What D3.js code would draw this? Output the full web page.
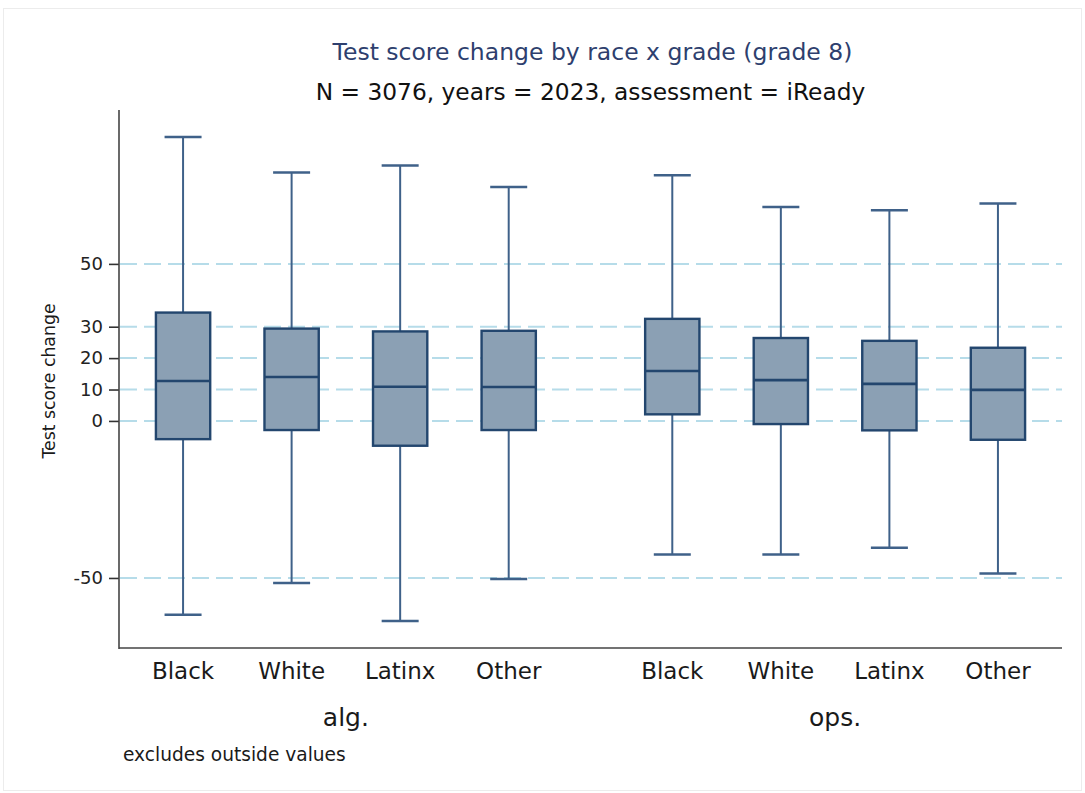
<!DOCTYPE html>
<html>
<head>
<meta charset="utf-8">
<script src="https://cdn.jsdelivr.net/npm/d3@7"></script>
<style>
  html, body { margin: 0; padding: 0; background: #fff; }
  svg { display: block; font-family: "DejaVu Sans", "Liberation Sans", Arial, sans-serif; }
</style>
</head>
<body>
<svg id="chart" width="1085" height="793"></svg>
<script>
// Box plot of test score change, grade 8, split by subject and race
const subjects = ["alg.", "ops."];
const races = ["Black", "White", "Latinx", "Other"];

// Five-number summaries per subject, in race order
const whiskerLow = {
  "alg.": [-61.7, -51.6, -63.7, -50.3],
  "ops.": [-42.5, -42.5, -40.4, -48.6]
};
const quartile1 = {
  "alg.": [-5.8, -2.9, -7.9, -2.9],
  "ops.": [2.1, -1.0, -3.0, -6.0]
};
const medians = {
  "alg.": [12.7, 14.0, 10.9, 10.8],
  "ops.": [15.9, 13.0, 11.8, 9.9]
};
const quartile3 = {
  "alg.": [34.5, 29.4, 28.5, 28.7],
  "ops.": [32.5, 26.4, 25.5, 23.3]
};
const whiskerHigh = {
  "alg.": [90.4, 79.1, 81.3, 74.5],
  "ops.": [78.2, 68.1, 67.1, 69.2]
};
const yTicks = [-50, 0, 10, 20, 30, 50];

const titleText = "Test score change by race x grade (grade 8)";
const subtitleText = "N = 3076, years = 2023, assessment = iReady";
const yTitle = "Test score change";
const noteText = "excludes outside values";

const svg = d3.select("#chart");

// page frame
svg.append("rect")
  .attr("x", 3.5).attr("y", 8.5).attr("width", 1078).attr("height", 782)
  .attr("fill", "#fff").attr("stroke", "#ececec").attr("stroke-width", 1);

const plot = { left: 119, right: 1062, top: 110, bottom: 648 };

const y = d3.scaleLinear().domain([-72.3, 99]).range([plot.bottom, plot.top]);

const xOuter = d3.scaleBand().domain(subjects)
  .range([plot.left, plot.right])
  .paddingInner(0.1125).paddingOuter(0.02);

const xInner = d3.scaleBand().domain(races)
  .range([0, xOuter.bandwidth()])
  .paddingInner(0.5).paddingOuter(0.25);

// dashed gridlines
svg.append("g").selectAll("line").data(yTicks).join("line")
  .attr("x1", plot.left + 1).attr("x2", plot.right)
  .attr("y1", d => y(d)).attr("y2", d => y(d))
  .attr("stroke", "#b6dce9").attr("stroke-width", 2)
  .attr("stroke-dasharray", "17,7");

// y axis
const yAxis = d3.axisLeft(y).tickValues(yTicks).tickSize(10).tickPadding(6).tickFormat(d => String(d));
const gy = svg.append("g").attr("transform", `translate(${plot.left},0)`).call(yAxis);
gy.select(".domain").remove();
gy.selectAll(".tick line").attr("stroke", "#333").attr("stroke-width", 1.6);
gy.selectAll(".tick text").attr("fill", "#222").style("font-size", "18px")
  .style("font-family", "'DejaVu Sans', sans-serif");

// axis lines
svg.append("line").attr("x1", plot.left).attr("x2", plot.left)
  .attr("y1", plot.top).attr("y2", plot.bottom + 1)
  .attr("stroke", "#444").attr("stroke-width", 1.6);
svg.append("line").attr("x1", plot.left).attr("x2", plot.right)
  .attr("y1", plot.bottom).attr("y2", plot.bottom)
  .attr("stroke", "#444").attr("stroke-width", 1.6);

// flatten summaries into box records
const boxes = [];
subjects.forEach(s => races.forEach((r, i) => boxes.push({
  subject: s, race: r,
  lo: whiskerLow[s][i], q1: quartile1[s][i], med: medians[s][i],
  q3: quartile3[s][i], hi: whiskerHigh[s][i]
})));

const cx = d => xOuter(d.subject) + xInner(d.race) + xInner.bandwidth() / 2;
const bw = xInner.bandwidth();
const capHalf = 18.5;

const whiskerColor = "#3f6189";
const boxStroke = "#23466e";
const boxFill = "#8ba0b4";

const g = svg.append("g").selectAll("g").data(boxes).join("g");

// whiskers
g.append("line")
  .attr("x1", cx).attr("x2", cx)
  .attr("y1", d => y(d.hi)).attr("y2", d => y(d.q3))
  .attr("stroke", whiskerColor).attr("stroke-width", 2);
g.append("line")
  .attr("x1", cx).attr("x2", cx)
  .attr("y1", d => y(d.q1)).attr("y2", d => y(d.lo))
  .attr("stroke", whiskerColor).attr("stroke-width", 2);
// caps
g.append("line")
  .attr("x1", d => cx(d) - capHalf).attr("x2", d => cx(d) + capHalf)
  .attr("y1", d => y(d.hi)).attr("y2", d => y(d.hi))
  .attr("stroke", whiskerColor).attr("stroke-width", 2.5);
g.append("line")
  .attr("x1", d => cx(d) - capHalf).attr("x2", d => cx(d) + capHalf)
  .attr("y1", d => y(d.lo)).attr("y2", d => y(d.lo))
  .attr("stroke", whiskerColor).attr("stroke-width", 2.5);
// box
g.append("rect")
  .attr("x", d => cx(d) - bw / 2).attr("width", bw)
  .attr("y", d => y(d.q3)).attr("height", d => y(d.q1) - y(d.q3))
  .attr("fill", boxFill).attr("stroke", boxStroke).attr("stroke-width", 2.4);
// median
g.append("line")
  .attr("x1", d => cx(d) - bw / 2).attr("x2", d => cx(d) + bw / 2)
  .attr("y1", d => y(d.med)).attr("y2", d => y(d.med))
  .attr("stroke", boxStroke).attr("stroke-width", 2.6);

// category labels
svg.append("g").selectAll("text").data(boxes).join("text")
  .attr("x", cx).attr("y", 679)
  .attr("text-anchor", "middle").attr("fill", "#1a1a1a")
  .style("font-size", "23px")
  .text(d => d.race);

// subject labels
svg.append("g").selectAll("text").data(subjects).join("text")
  .attr("x", d => xOuter(d) + xOuter.bandwidth() / 2).attr("y", 726)
  .attr("text-anchor", "middle").attr("fill", "#1a1a1a")
  .style("font-size", "25px")
  .text(d => d);

// titles
svg.append("text").attr("x", (plot.left + plot.right) / 2 + 2).attr("y", 60)
  .attr("text-anchor", "middle").attr("fill", "#2e3f6e")
  .style("font-size", "23.5px").text(titleText);
svg.append("text").attr("x", (plot.left + plot.right) / 2).attr("y", 100)
  .attr("text-anchor", "middle").attr("fill", "#111")
  .style("font-size", "23.3px").text(subtitleText);

// y axis title
svg.append("text")
  .attr("transform", `translate(55,${(plot.top + plot.bottom) / 2 + 2}) rotate(-90)`)
  .attr("text-anchor", "middle").attr("fill", "#1a1a1a")
  .style("font-size", "17.3px").text(yTitle);

// note
svg.append("text").attr("x", 123).attr("y", 761)
  .attr("fill", "#1a1a1a").style("font-size", "18.6px").text(noteText);
</script>
</body>
</html>
